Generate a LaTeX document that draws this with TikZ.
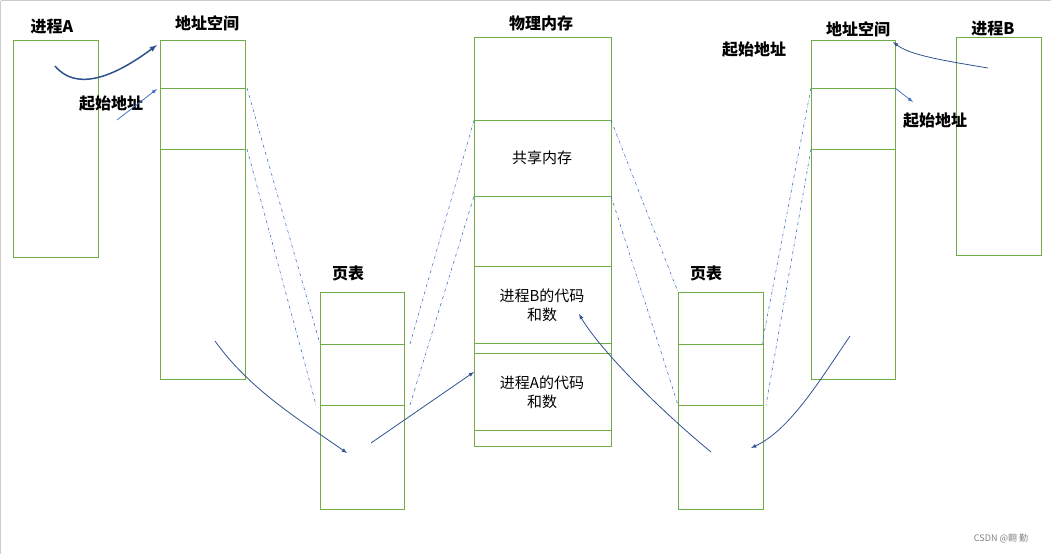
\documentclass[tikz,border=0pt]{standalone}
\usepackage{fontspec}
\setmainfont{Noto Sans CJK SC}
\usetikzlibrary{calc}
\definecolor{boxgreen}{RGB}{112,173,71}
\definecolor{arrowblue}{RGB}{47,82,143}
\definecolor{lightblue}{RGB}{68,114,196}
\tikzset{
  box/.style={draw=boxgreen, line width=0.8pt},
  title/.style={font=\fontsize{16}{18}\selectfont\bfseries},
  body/.style={font=\fontsize{15}{19}\selectfont, align=center},
  map/.style={draw=lightblue, dash dot, line width=0.6pt},
  ptr/.style={draw=arrowblue, line width=0.8pt, -latex}
}
\begin{document}
\begin{tikzpicture}[x=1pt, y=-1pt]
\useasboundingbox (0,0) rectangle (1051,554);
\draw[gray!40] (0.5,0.5) -- (1050.5,0.5);
\draw[gray!40] (0.5,0.5) -- (0.5,554);

% Boxes
\draw[box] (13,40) rectangle (98,257);
\draw[box] (160,40) rectangle (245,379);
\draw[box] (160,88) -- (245,88) (160,149) -- (245,149);
\draw[box] (320,292) rectangle (404,509);
\draw[box] (320,344) -- (404,344) (320,405) -- (404,405);
\draw[box] (474,37) rectangle (611,446);
\foreach \y in {120,196,266,343,353,430}
  \draw[box] (474,\y) -- (611,\y);
\draw[box] (678,292) rectangle (763,509);
\draw[box] (678,344) -- (763,344) (678,405) -- (763,405);
\draw[box] (811,40) rectangle (895,379);
\draw[box] (811,88) -- (895,88) (811,149) -- (895,149);
\draw[box] (956,37) rectangle (1041,255);

% Labels
\node[title] (procA) at (52,27) {进程A};
\node[title] (spaceA) at (207,23) {地址空间};
\node[title] (startA) at (111,104) {起始地址};
\node[title] (tableA) at (348,273) {页表};
\node[title] (phys) at (541,23) {物理内存};
\node[title] (tableB) at (706,273) {页表};
\node[title] (startB1) at (754,50) {起始地址};
\node[title] (spaceB) at (858,29) {地址空间};
\node[title] (startB2) at (935,121) {起始地址};
\node[title] (procB) at (993,29) {进程B};
\node[body] (shared) at (542,158) {共享内存};
\node[body] (codeB) at (542,305) {进程B的代码\\和数};
\node[body] (codeA) at (542,392) {进程A的代码\\和数};
\node[gray, font=\fontsize{9}{10}\selectfont] (mark) at (1001,538) {CSDN @翾 勤};

% Mappings
\draw[map] (247,88) -- (320,344);
\draw[map] (247,149) -- (316,405);
\draw[map] (410,344) -- (474,120);
\draw[map] (410,405) -- (474,196);
\draw[map] (611,120) -- (678,292);
\draw[map] (611,196) -- (678,405);
\draw[map] (811,88) -- (762,344);
\draw[map] (811,149) -- (766,405);

% Pointers
\coordinate (a1) at (55,66);  \coordinate (a2) at (157,45);
\coordinate (a3) at (117,120); \coordinate (a4) at (157,89);
\coordinate (a5) at (215,341); \coordinate (a6) at (347,453);
\coordinate (a7) at (371,443); \coordinate (a8) at (474,372);
\coordinate (b1) at (711,452); \coordinate (b2) at (579,314);
\coordinate (b3) at (850,336); \coordinate (b4) at (751,448);
\coordinate (b5) at (988,68);  \coordinate (b6) at (893,42);
\coordinate (b7) at (895,88);  \coordinate (b8) at (913,102);
\draw[ptr, line width=1.5pt] (a1) .. controls (75,90) and (110,80) .. (a2);
\draw[ptr, draw=lightblue] (a3) -- (a4);
\draw[ptr] (a5) .. controls (250,390) and (300,420) .. (a6);
\draw[ptr] (a7) -- (a8);
\draw[ptr] (b1) .. controls (660,410) and (600,350) .. (b2);
\draw[ptr] (b3) .. controls (820,380) and (790,430) .. (b4);
\draw[ptr] (b5) .. controls (940,60) and (910,55) .. (b6);
\draw[ptr, draw=lightblue] (b7) -- (b8);
\end{tikzpicture}
\end{document}
